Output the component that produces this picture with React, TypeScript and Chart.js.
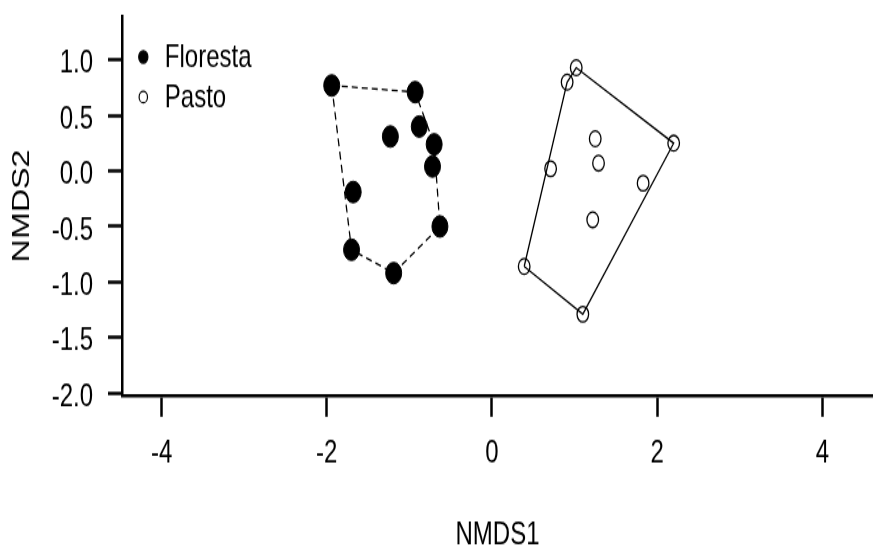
import { useEffect, useRef } from "react";
import { Chart, registerables } from "chart.js";

Chart.register(...registerables);

// ---- data (NMDS scores) ----
const GROUPS = ["Floresta", "Pasto"];
const FLORESTA_X = [-1.94, -0.93, -0.88, -1.23, -0.70, -0.72, -1.68, -0.63, -1.70, -1.19];
const FLORESTA_Y = [0.77, 0.71, 0.40, 0.31, 0.24, 0.04, -0.19, -0.50, -0.71, -0.92];
const PASTO_X = [1.02, 0.91, 2.20, 1.25, 1.29, 0.71, 1.83, 1.22, 0.39, 1.10];
const PASTO_Y = [0.93, 0.80, 0.25, 0.29, 0.07, 0.02, -0.11, -0.44, -0.86, -1.29];
const X_TICKS = [-4, -2, 0, 2, 4];
const Y_TICKS = [-2.0, -1.5, -1.0, -0.5, 0.0, 0.5, 1.0];
const X_RANGE = [-4.479, 4.613];
const Y_RANGE = [-2.027, 1.396];
const X_TITLE = "NMDS1";
const Y_TITLE = "NMDS2";

// ---- geometry of the drawing surface (drawn short, then stretched tall like the reference) ----
const W = 873;
const H = 411;
const DISPLAY_H = 551;
const FONT = "'Liberation Sans', Arial, Helvetica, sans-serif";
const FS = 24;

type P = { x: number; y: number };

function toPoints(xs: number[], ys: number[]): P[] {
  return xs.map((x, i) => ({ x, y: ys[i] }));
}

// convex hull (monotone chain), returned closed
function hull(pts: P[]): P[] {
  const s = [...pts].sort((a, b) => (a.x === b.x ? a.y - b.y : a.x - b.x));
  const cross = (o: P, a: P, b: P) => (a.x - o.x) * (b.y - o.y) - (a.y - o.y) * (b.x - o.x);
  const lower: P[] = [];
  for (const p of s) {
    while (lower.length >= 2 && cross(lower[lower.length - 2], lower[lower.length - 1], p) <= 0) lower.pop();
    lower.push(p);
  }
  const upper: P[] = [];
  for (let i = s.length - 1; i >= 0; i--) {
    const p = s[i];
    while (upper.length >= 2 && cross(upper[upper.length - 2], upper[upper.length - 1], p) <= 0) upper.pop();
    upper.push(p);
  }
  const h = lower.slice(0, -1).concat(upper.slice(0, -1));
  return [...h, h[0]];
}

const legendPlugin = {
  id: "groupLegend",
  afterDatasetsDraw(chart: any) {
    const ctx = chart.ctx as CanvasRenderingContext2D;
    ctx.save();
    ctx.font = `${FS}px ${FONT}`;
    ctx.textBaseline = "middle";
    ctx.textAlign = "left";
    GROUPS.forEach((g, i) => {
      const y = 42.5 + i * 29.9;
      ctx.beginPath();
      ctx.arc(143.3, y, i === 0 ? 4.6 : 4.2, 0, Math.PI * 2);
      ctx.strokeStyle = "#000";
      ctx.lineWidth = 1.2;
      if (i === 0) {
        ctx.fillStyle = "#000";
        ctx.fill();
      }
      ctx.stroke();
      ctx.fillStyle = "#000";
      ctx.fillText(g, 164.8, y + 0.5);
    });
    ctx.restore();
  },
};

const noPadding = (s: any) => {
  s.paddingLeft = 0;
  s.paddingRight = 0;
  s.paddingTop = 0;
  s.paddingBottom = 0;
};

export default function App() {
  const ref = useRef<HTMLCanvasElement>(null);

  useEffect(() => {
    const flo = toPoints(FLORESTA_X, FLORESTA_Y);
    const pas = toPoints(PASTO_X, PASTO_Y);

    const tickFont = { family: FONT, size: FS };
    const chart = new Chart(ref.current as HTMLCanvasElement, {
      type: "scatter",
      data: {
        datasets: [
          {
            label: GROUPS[0],
            data: flo,
            pointRadius: 8,
            pointBackgroundColor: "#000",
            pointBorderColor: "#000",
            pointBorderWidth: 1,
            showLine: false,
          },
          {
            label: GROUPS[1],
            data: pas,
            pointRadius: 5.8,
            pointBackgroundColor: "rgba(0,0,0,0)",
            pointBorderColor: "#000",
            pointBorderWidth: 1.3,
            showLine: false,
          },
          {
            label: GROUPS[0] + " hull",
            data: hull(flo),
            showLine: true,
            pointRadius: 0,
            borderColor: "#000",
            borderWidth: 1.3,
            borderDash: [6, 4],
            fill: false,
            tension: 0,
          },
          {
            label: GROUPS[1] + " hull",
            data: hull(pas),
            showLine: true,
            pointRadius: 0,
            borderColor: "#000",
            borderWidth: 1.3,
            fill: false,
            tension: 0,
          },
        ],
      } as any,
      options: {
        animation: false,
        responsive: false,
        maintainAspectRatio: false,
        devicePixelRatio: 1,
        layout: { autoPadding: false, padding: { top: 11.9, right: 0, bottom: 0, left: 0 } },
        plugins: {
          legend: { display: false },
          tooltip: { enabled: false },
        },
        scales: {
          x: {
            type: "linear",
            position: "bottom",
            min: X_RANGE[0],
            max: X_RANGE[1],
            afterBuildTicks: (s: any) => {
              s.ticks = X_TICKS.map((v) => ({ value: v }));
            },
            afterFit: (s: any) => {
              s.height = H - 295.4;
              noPadding(s);
            },
            grid: {
              display: true,
              drawOnChartArea: false,
              drawTicks: true,
              tickLength: 15.5,
              tickWidth: 2.5,
              tickColor: "#000",
            },
            border: { display: true, color: "#000", width: 2.5 },
            ticks: {
              color: "#000",
              font: tickFont,
              padding: 13.4,
              autoSkip: false,
              maxRotation: 0,
              callback: (v: any) => String(v),
            },
            title: {
              display: true,
              text: X_TITLE,
              color: "#000",
              font: { family: FONT, size: FS, lineHeight: 1 },
              padding: { top: 0, bottom: 0 },
            },
          },
          y: {
            type: "linear",
            position: "left",
            min: Y_RANGE[0],
            max: Y_RANGE[1],
            afterBuildTicks: (s: any) => {
              s.ticks = Y_TICKS.map((v) => ({ value: v }));
            },
            afterFit: (s: any) => {
              s.width = 122;
              noPadding(s);
            },
            grid: {
              display: true,
              drawOnChartArea: false,
              drawTicks: true,
              tickLength: 14,
              tickWidth: 2.5,
              tickColor: "#000",
            },
            border: { display: true, color: "#000", width: 2.5 },
            ticks: {
              color: "#000",
              font: tickFont,
              padding: 15,
              labelOffset: 3,
              autoSkip: false,
              callback: (v: any) => Number(v).toFixed(1),
            },
            title: {
              display: true,
              text: Y_TITLE,
              color: "#000",
              font: { family: FONT, size: FS, lineHeight: 1 },
              padding: { top: 10, bottom: 0 },
            },
          },
        },
      } as any,
      plugins: [legendPlugin],
    });
    return () => chart.destroy();
  }, []);

  return (
    <canvas
      ref={ref}
      width={W}
      height={H}
      style={{
        position: "fixed",
        left: 0,
        top: 0,
        width: `${W}px`,
        height: `${DISPLAY_H}px`,
        display: "block",
        background: "#fff",
      }}
    />
  );
}
